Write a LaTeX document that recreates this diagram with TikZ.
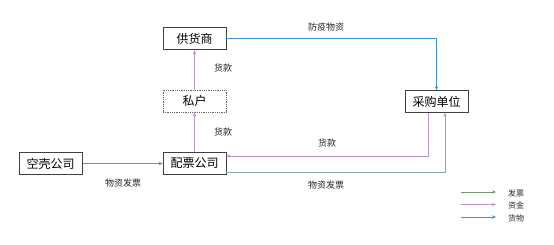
\documentclass[tikz,border=0pt]{standalone}
\usepackage{fontspec}
\setmainfont{Noto Sans CJK SC}
\usepackage{xcolor}
\usetikzlibrary{arrows.meta, positioning}

\definecolor{invoicegreen}{HTML}{77956A}
\definecolor{fundpurple}{HTML}{B894D8}
\definecolor{goodsblue}{HTML}{3F94D6}
\definecolor{invoiceteal}{HTML}{8AAFA5}

\begin{document}
\begin{tikzpicture}[
    x=1pt, y=-1pt,
    party/.style={
        rectangle,
        draw=black!75,
        line width=0.8pt,
        minimum width=63pt,
        minimum height=22pt,
        inner sep=1pt,
        font=\fontsize{12}{13}\selectfont
    },
    hidden/.style={party, draw=black!60, densely dotted},
    flowlabel/.style={font=\fontsize{9}{10}\selectfont, text=black!85, inner sep=1pt},
    legendlabel/.style={font=\fontsize{8}{9}\selectfont, text=black!85, inner sep=1pt, anchor=west},
    flow/.style={-{Stealth[length=4pt, width=3.5pt]}, line width=0.9pt},
    invoice/.style={flow, draw=invoicegreen},
    invoicetwo/.style={flow, draw=invoiceteal},
    fund/.style={flow, draw=fundpurple},
    goods/.style={flow, draw=goodsblue},
    node distance=39.5pt
]
\useasboundingbox (0,0) rectangle (554,245);

% parties
\node[party] (peipiao) at (194.5,163.5) {配票公司};
\node[hidden, above=of peipiao] (private) {私户};
\node[party, above=of private] (supplier) {供货商};
\node[party, left=80pt of peipiao] (shell) {空壳公司};
\node[party] (buyer) at (436.5,101.5) {采购单位};

% flows
\draw[goods] (supplier.east) -| (buyer.north);
\draw[fund] (private) -- (supplier);
\draw[fund] (peipiao) -- (private);
\draw[invoice] (shell) -- (peipiao);
\draw[fund] ([xshift=-8.5pt]buyer.south) |- ([yshift=7.5pt]peipiao.east);
\draw[invoicetwo] ([yshift=-8.5pt]peipiao.east) -| ([xshift=8.5pt]buyer.south);

% labels
\node[flowlabel] (goodslabel) at (326,27) {防疫物资};
\node[flowlabel] (fundlabelup) at (223,68) {货款};
\node[flowlabel] (fundlabeldown) at (223,132) {货款};
\node[flowlabel] (shelllabel) at (123,183) {物资发票};
\node[flowlabel] (buyerfundlabel) at (327,143) {货款};
\node[flowlabel] (buyerinvoicelabel) at (326,185) {物资发票};

% legend
\coordinate (lgA) at (461,192);
\coordinate (lgB) at (461,204.5);
\coordinate (lgC) at (461,217);
\coordinate (lgAe) at (496,192);
\coordinate (lgBe) at (496,204.5);
\coordinate (lgCe) at (496,217);
\draw[invoice, line width=0.8pt] (lgA) -- (lgAe);
\draw[fund, line width=0.8pt] (lgB) -- (lgBe);
\draw[goods, line width=0.8pt] (lgC) -- (lgCe);
\node[legendlabel] (lgAtext) at (507,193) {发票};
\node[legendlabel] (lgBtext) at (507,205.5) {资金};
\node[legendlabel] (lgCtext) at (507,218) {货物};

\end{tikzpicture}
\end{document}
